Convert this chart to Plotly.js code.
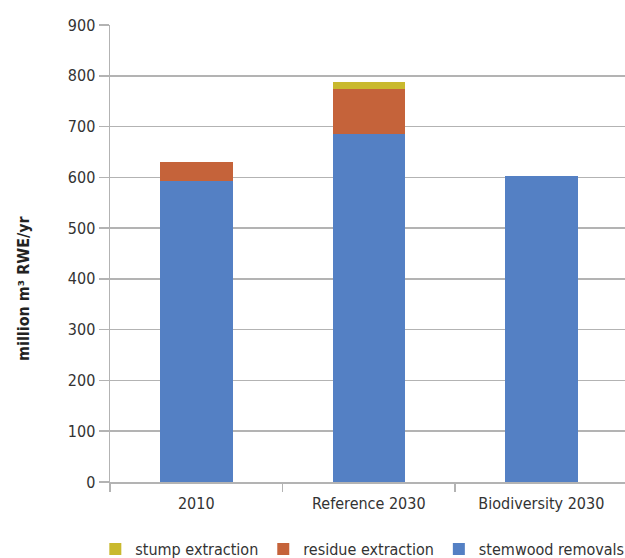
<!DOCTYPE html>
<html>
<head>
<meta charset="utf-8">
<script src="https://cdn.plot.ly/plotly-3.0.1.min.js"></script>
<style>html,body{margin:0;padding:0;background:#fff;overflow:hidden}#chart{width:625px;height:558px}</style>
</head>
<body>
<div id="chart"></div>
<script>
const categories = ["2010", "Reference 2030", "Biodiversity 2030"];
const stemwood = [593, 686, 602];
const residue = [37, 88, 0];
const stump = [0, 14, 0];
const yTicks = [0, 100, 200, 300, 400, 500, 600, 700, 800, 900];

const font = "'Liberation Sans Narrow', 'DejaVu Sans Condensed', Arial, sans-serif";
const grey = "#b3b3b3";

const traces = [
  {type: "bar", name: "stemwood removals", x: categories, y: stemwood, marker: {color: "#5480c4"}, width: 0.42},
  {type: "bar", name: "residue extraction", x: categories, y: residue, marker: {color: "#c5633a"}, width: 0.42},
  {type: "bar", name: "stump extraction", x: categories, y: stump, marker: {color: "#c9b92e"}, width: 0.42}
];

const layout = {
  width: 625, height: 558,
  margin: {l: 110, r: 0, t: 25, b: 76, autoexpand: false},
  barmode: "stack",
  paper_bgcolor: "#fff", plot_bgcolor: "#fff",
  font: {family: font, size: 16, color: "#333"},
  showlegend: true,
  legend: {orientation: "h", traceorder: "reversed", x: -0.0285, xanchor: "left", y: -0.147, yanchor: "middle",
    font: {family: font, size: 16, color: "#333"}, itemwidth: 20, tracegroupgap: 0},
  xaxis: {
    type: "category", range: [-0.5, 2.485],
    showline: true, linecolor: grey, linewidth: 1.5,
    ticks: "outside", tickson: "boundaries", ticklen: 8, tickcolor: grey, tickwidth: 1.5,
    ticklabelstandoff: 6,
    showgrid: false, tickfont: {family: font, size: 16, color: "#333"}
  },
  yaxis: {
    range: [0, 900], tickvals: yTicks, ticktext: yTicks.map(String),
    showline: true, linecolor: grey, linewidth: 1.5,
    ticks: "outside", ticklen: 10, tickcolor: grey, tickwidth: 1.5,
    showgrid: true, gridcolor: grey, gridwidth: 1.5, zeroline: false,
    tickfont: {family: font, size: 16, color: "#333"}
  },
  annotations: [{
    text: "<b>million m³ RWE/yr</b>", xref: "paper", yref: "paper",
    x: (23 - 110) / 515, y: (482 - 288) / 457, xanchor: "center", yanchor: "middle",
    textangle: -90, showarrow: false, font: {family: font, size: 16, color: "#222"}
  }]
};

Plotly.newPlot("chart", traces, layout, {displayModeBar: false, staticPlot: true});
</script>
</body>
</html>
